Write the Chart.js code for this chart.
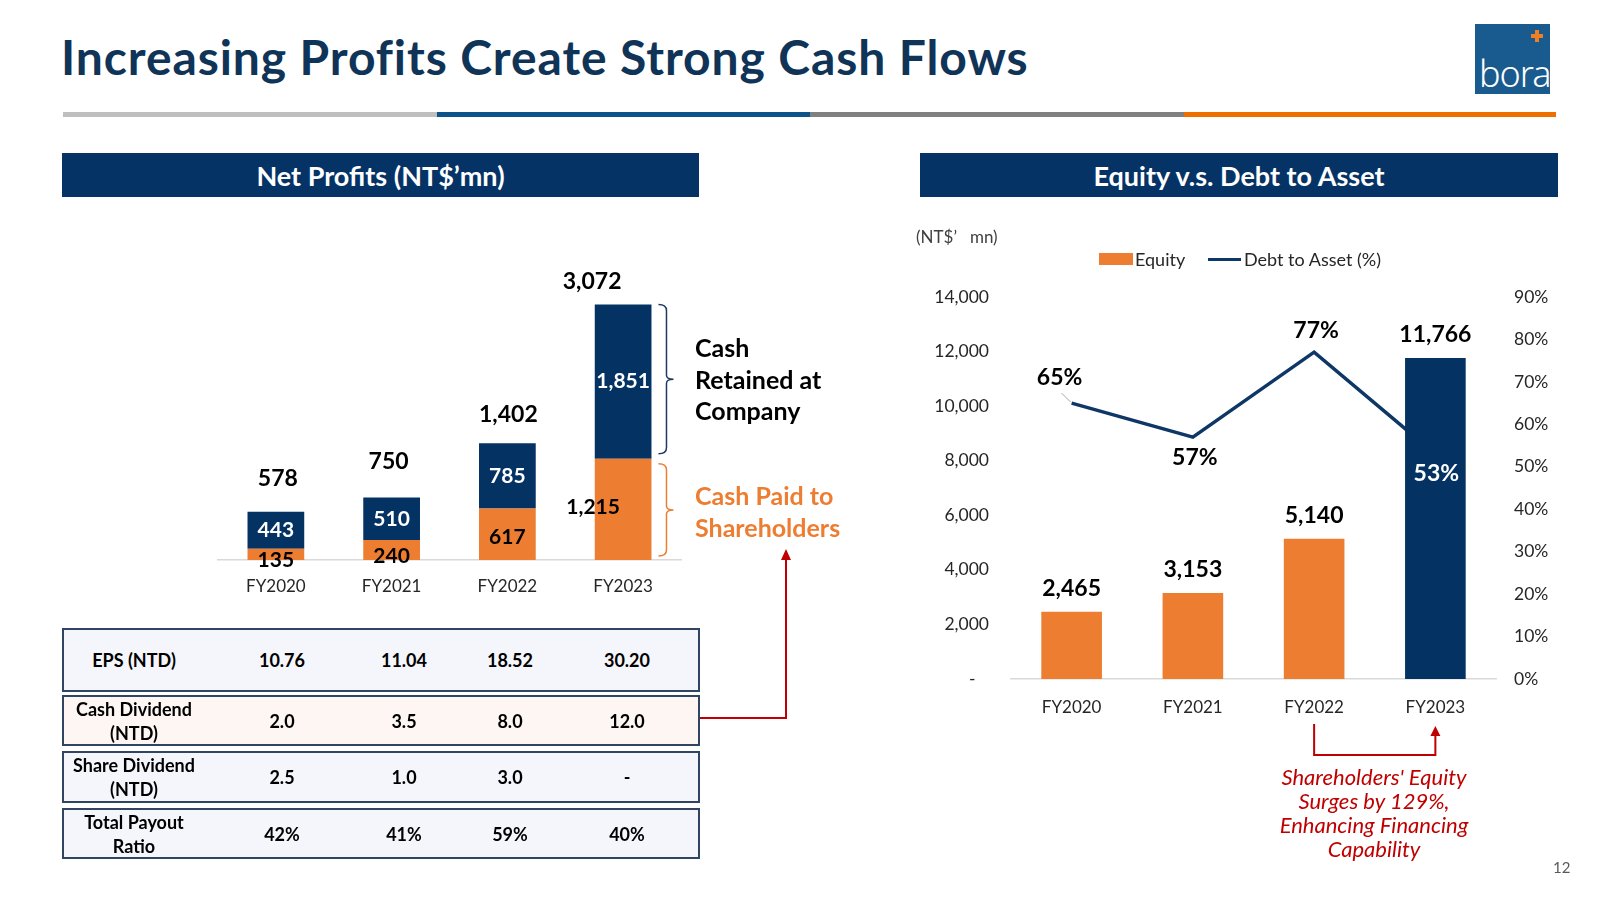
<!DOCTYPE html>
<html>
<head>
<meta charset="utf-8">
<script src="https://cdn.jsdelivr.net/npm/chart.js@4.4.1/dist/chart.umd.min.js"></script>
<style>
  html, body { margin: 0; padding: 0; background: #fff; }
  body { width: 1600px; height: 900px; position: relative; overflow: hidden; font-family: Lato, "Noto Sans", sans-serif; color: #000; }
  .abs { position: absolute; }
  #title { left: 61px; top: 29px; font-size: 48px; letter-spacing: 0.9px; font-weight: 700; color: #0F3457; white-space: nowrap; line-height: 56px; }
  .rule { top: 112px; height: 5px; }
  .hdr { top: 153px; height: 44px; background: #053365; color: #fff; font-weight: 700; font-size: 27px;
         display: flex; align-items: center; justify-content: center; }
  #logo { left: 1475px; top: 24px; width: 75px; height: 70px; background: #1A5B8F; overflow: hidden; }
  #logo .word { position: absolute; left: 4px; bottom: -4px; color: #fff; font-size: 36px; font-weight: 300; font-family: "Noto Sans", sans-serif; letter-spacing: -1px; }
  #logo .plus1 { position: absolute; left: 60px; top: 6px; width: 4px; height: 12px; background: #F07E22; }
  #logo .plus2 { position: absolute; left: 56px; top: 10px; width: 12px; height: 4px; background: #F07E22; }
  .note { font-weight: 700; font-size: 25px; line-height: 31.5px; white-space: nowrap; }
  .row { position: absolute; left: 62px; width: 638px; box-sizing: border-box; border: 2px solid #2F4562;
         display: grid; grid-template-columns: 140px 156px 88px 124px 110px; align-items: center;
         font-weight: 700; font-size: 18px; line-height: 24px; text-align: center; }
  #unit { left: 916px; top: 227px; font-size: 17px; color: #404040; white-space: pre; line-height: 20px; }
  .leg { top: 249px; font-size: 18px; line-height: 20px; color: #262626; white-space: nowrap; }
  #annot { left: 1214px; top: 765px; width: 320px; text-align: center; color: #C00000; font-style: italic; font-size: 22px; line-height: 24px; }
  #pg { left: 1553px; top: 858px; font-size: 15px; color: #595959; }
</style>
</head>
<body>
<div id="title" class="abs">Increasing Profits Create Strong Cash Flows</div>
<div class="abs rule" style="left:63px;width:374px;background:#BFBFBF"></div>
<div class="abs rule" style="left:437px;width:373px;background:#0B5388"></div>
<div class="abs rule" style="left:810px;width:374px;background:#808080"></div>
<div class="abs rule" style="left:1184px;width:372px;background:#EE6F00"></div>
<div id="logo" class="abs"><div class="plus1"></div><div class="plus2"></div><div class="word">bora</div></div>

<div class="abs hdr" style="left:62px;width:637px">Net Profits (NT$’mn)</div>
<div class="abs hdr" style="left:920px;width:638px">Equity v.s. Debt to Asset</div>

<canvas id="leftChart" class="abs" style="left:0;top:200px" width="860" height="410"></canvas>
<div class="abs note" style="left:695px;top:332px">Cash<br>Retained at<br>Company</div>
<div class="abs note" style="left:695px;top:480px;color:#ED7D31">Cash Paid to<br>Shareholders</div>
<svg class="abs" style="left:0;top:0" width="1600" height="900">
  <polyline points="700,718 786,718 786,558" fill="none" stroke="#C00000" stroke-width="2"/>
  <polygon points="781,560 791,560 786,549" fill="#C00000"/>
</svg>
<div id="table"></div>

<div id="unit" class="abs">(NT$’   mn)</div>
<div class="abs" style="left:1099px;top:253px;width:34px;height:12px;background:#ED7D31"></div>
<div class="abs leg" style="left:1135px">Equity</div>
<div class="abs" style="left:1208px;top:258px;width:33px;height:3px;background:#0E3766"></div>
<div class="abs leg" style="left:1244px">Debt to Asset (%)</div>
<canvas id="rightChart" class="abs" style="left:880px;top:270px" width="700" height="490"></canvas>
<div id="annot" class="abs">Shareholders' Equity<br>Surges by 129%,<br>Enhancing Financing<br>Capability</div>
<div id="pg" class="abs">12</div>

<script>
// ---- data ----
const years = ["FY2020", "FY2021", "FY2022", "FY2023"];
const paidOut = [135, 240, 617, 1215];      // cash paid to shareholders
const retained = [443, 510, 785, 1851];     // cash retained at company
const netProfit = [578, 750, 1402, 3072];

const rowLabels = ["EPS (NTD)", "Cash Dividend<br>(NTD)", "Share Dividend<br>(NTD)", "Total Payout<br>Ratio"];
const eps = ["10.76", "11.04", "18.52", "30.20"];
const cashDividend = ["2.0", "3.5", "8.0", "12.0"];
const shareDividend = ["2.5", "1.0", "3.0", "-"];
const payoutRatio = ["42%", "41%", "59%", "40%"];

const equity = [2465, 3153, 5140, 11766];
const debtToAsset = [65, 57, 77, 53];

// ---- label placement / styling ----
const totalLabelDX = [2, -3, 1, -31];
const totalLabelDY = [-33, -36, -29, -23];
const paidLabelDX = [0, 0, 0, -30];
const paidLabelDY = [6, 6, 3, -2];
const debtLabelDX = [-12, 2, 2, 1];
const debtLabelDY = [-26, 21, -22, 20];
const debtLabelColor = ["#000", "#000", "#000", "#fff"];
const equityColors = ["#ED7D31", "#ED7D31", "#ED7D31", "#033263"];

const NAVY = "#033263";
const ORANGE = "#ED7D31";
const fmt = (n) => n.toLocaleString("en-US");

// table
(function () {
  const rows = [eps, cashDividend, shareDividend, payoutRatio];
  const tops = [628, 695, 751, 808];
  const heights = [64, 51, 52, 51];
  const bgs = ["#F4F6FB", "#FDF6F2", "#F4F6FB", "#F4F6FB"];
  const holder = document.getElementById("table");
  rows.forEach((vals, r) => {
    const div = document.createElement("div");
    div.className = "row";
    div.style.top = tops[r] + "px";
    div.style.height = heights[r] + "px";
    div.style.background = bgs[r];
    div.innerHTML = `<div>${rowLabels[r]}</div>` + vals.map((v) => `<div>${v}</div>`).join("");
    holder.appendChild(div);
  });
})();

function drawBrace(ctx, x, y1, y2, color) {
  const mid = (y1 + y2) / 2;
  const v = x + 8;
  ctx.strokeStyle = color;
  ctx.lineWidth = 1.5;
  ctx.beginPath();
  ctx.moveTo(x, y1);
  ctx.quadraticCurveTo(v, y1, v, y1 + 6);
  ctx.lineTo(v, mid - 4);
  ctx.quadraticCurveTo(v, mid, v + 7, mid);
  ctx.quadraticCurveTo(v, mid, v, mid + 4);
  ctx.lineTo(v, y2 - 6);
  ctx.quadraticCurveTo(v, y2, x, y2);
  ctx.stroke();
}

const leftLabels = {
  id: "leftLabels",
  afterDatasetsDraw(chart) {
    const ctx = chart.ctx;
    const paidMeta = chart.getDatasetMeta(0);
    const keptMeta = chart.getDatasetMeta(1);
    ctx.save();
    ctx.textAlign = "center";
    ctx.textBaseline = "middle";
    keptMeta.data.forEach((bar, i) => {
      const p = paidMeta.data[i];
      ctx.font = "bold 21px Lato";
      ctx.fillStyle = "#fff";
      ctx.fillText(fmt(retained[i]), bar.x, (bar.y + bar.base) / 2);
      ctx.fillStyle = "#000";
      ctx.fillText(fmt(paidOut[i]), p.x + paidLabelDX[i], (p.y + p.base) / 2 + paidLabelDY[i]);
      ctx.font = "bold 23px Lato";
      ctx.fillText(fmt(netProfit[i]), bar.x + totalLabelDX[i], bar.y + totalLabelDY[i]);
    });
    const last = keptMeta.data.length - 1;
    const kb = keptMeta.data[last];
    const pb = paidMeta.data[last];
    const bx = kb.x + kb.width / 2 + 7;
    drawBrace(ctx, bx, kb.y, kb.base - 5, "#1F3864");
    drawBrace(ctx, bx, pb.y + 5, pb.base - 4, ORANGE);
    ctx.restore();
  },
};

new Chart(document.getElementById("leftChart"), {
  type: "bar",
  data: {
    labels: years,
    datasets: [
      { label: "Cash Paid to Shareholders", data: paidOut, backgroundColor: ORANGE, barPercentage: 0.49, categoryPercentage: 1 },
      { label: "Cash Retained at Company", data: retained, backgroundColor: NAVY, barPercentage: 0.49, categoryPercentage: 1 },
    ],
  },
  options: {
    responsive: false,
    animation: false,
    layout: { padding: { left: 218, right: 179, top: 40, bottom: 0 } },
    plugins: { legend: { display: false }, tooltip: { enabled: false } },
    scales: {
      x: {
        stacked: true,
        grid: { display: false, drawTicks: false },
        border: { display: true, color: "#D9D9D9", width: 1.5 },
        ticks: { color: "#262626", font: { family: "Lato", size: 17 }, padding: 16 },
        afterFit: (s) => { s.height = 50; },
      },
      y: { stacked: true, display: false, min: 0, max: 3840 },
    },
  },
  plugins: [leftLabels],
});

const rightLabels = {
  id: "rightLabels",
  afterDatasetsDraw(chart) {
    const ctx = chart.ctx;
    const barMeta = chart.getDatasetMeta(0);
    const lineMeta = chart.getDatasetMeta(1);
    ctx.save();
    ctx.textAlign = "center";
    ctx.textBaseline = "middle";
    ctx.font = "bold 23px Lato";
    ctx.fillStyle = "#000";
    barMeta.data.forEach((b, i) => ctx.fillText(fmt(equity[i]), b.x, b.y - 23));

    const p0 = lineMeta.data[0];
    ctx.strokeStyle = "#A6A6A6";
    ctx.lineWidth = 1;
    ctx.beginPath();
    ctx.moveTo(p0.x - 10, p0.y - 10);
    ctx.lineTo(p0.x - 1, p0.y - 1);
    ctx.stroke();
    lineMeta.data.forEach((p, i) => {
      ctx.fillStyle = debtLabelColor[i];
      ctx.fillText(debtToAsset[i] + "%", p.x + debtLabelDX[i], p.y + debtLabelDY[i]);
    });

    // FY2022 -> FY2023 arrow under the axis
    const xs = chart.scales.x;
    const xa = xs.getPixelForValue(2);
    const xb = xs.getPixelForValue(3);
    const yb = chart.chartArea.bottom;
    ctx.strokeStyle = "#C00000";
    ctx.fillStyle = "#C00000";
    ctx.lineWidth = 2;
    ctx.beginPath();
    ctx.moveTo(xa, yb + 45);
    ctx.lineTo(xa, yb + 76);
    ctx.lineTo(xb, yb + 76);
    ctx.lineTo(xb, yb + 56);
    ctx.stroke();
    ctx.beginPath();
    ctx.moveTo(xb - 5, yb + 57);
    ctx.lineTo(xb + 5, yb + 57);
    ctx.lineTo(xb, yb + 47);
    ctx.closePath();
    ctx.fill();
    ctx.restore();
  },
};

new Chart(document.getElementById("rightChart"), {
  data: {
    labels: years,
    datasets: [
      { type: "bar", label: "Equity", data: equity, yAxisID: "y", backgroundColor: equityColors, barPercentage: 0.5, categoryPercentage: 1, order: 1 },
      { type: "line", label: "Debt to Asset (%)", data: debtToAsset, yAxisID: "y1", borderColor: "#0E3766", borderWidth: 3.5, pointRadius: 0, tension: 0, order: 2 },
    ],
  },
  options: {
    responsive: false,
    animation: false,
    layout: { padding: { left: 0, right: 0, top: 27, bottom: 0 } },
    plugins: { legend: { display: false }, tooltip: { enabled: false } },
    scales: {
      x: {
        grid: { display: false, drawTicks: false },
        border: { display: true, color: "#D9D9D9", width: 1.5 },
        ticks: { color: "#262626", font: { family: "Lato", size: 17 }, padding: 18 },
        afterFit: (s) => { s.height = 81; },
      },
      y: {
        position: "left",
        min: 0,
        max: 14000,
        grid: { display: false, drawTicks: true, tickLength: 20 },
        border: { display: false },
        ticks: { stepSize: 2000, padding: 2, color: "#262626", font: { family: "Lato", size: 17.5 },
                 callback: (v) => (v === 0 ? "-   " : fmt(v)) },
        afterFit: (s) => { s.width = 131; },
      },
      y1: {
        position: "right",
        min: 0,
        max: 90,
        grid: { display: false, drawTicks: true, tickLength: 16 },
        border: { display: false },
        ticks: { stepSize: 10, padding: 2, color: "#262626", font: { family: "Lato", size: 17.5 },
                 callback: (v) => v + "%" },
        afterFit: (s) => { s.width = 84; },
      },
    },
  },
  plugins: [rightLabels],
});
</script>
</body>
</html>
